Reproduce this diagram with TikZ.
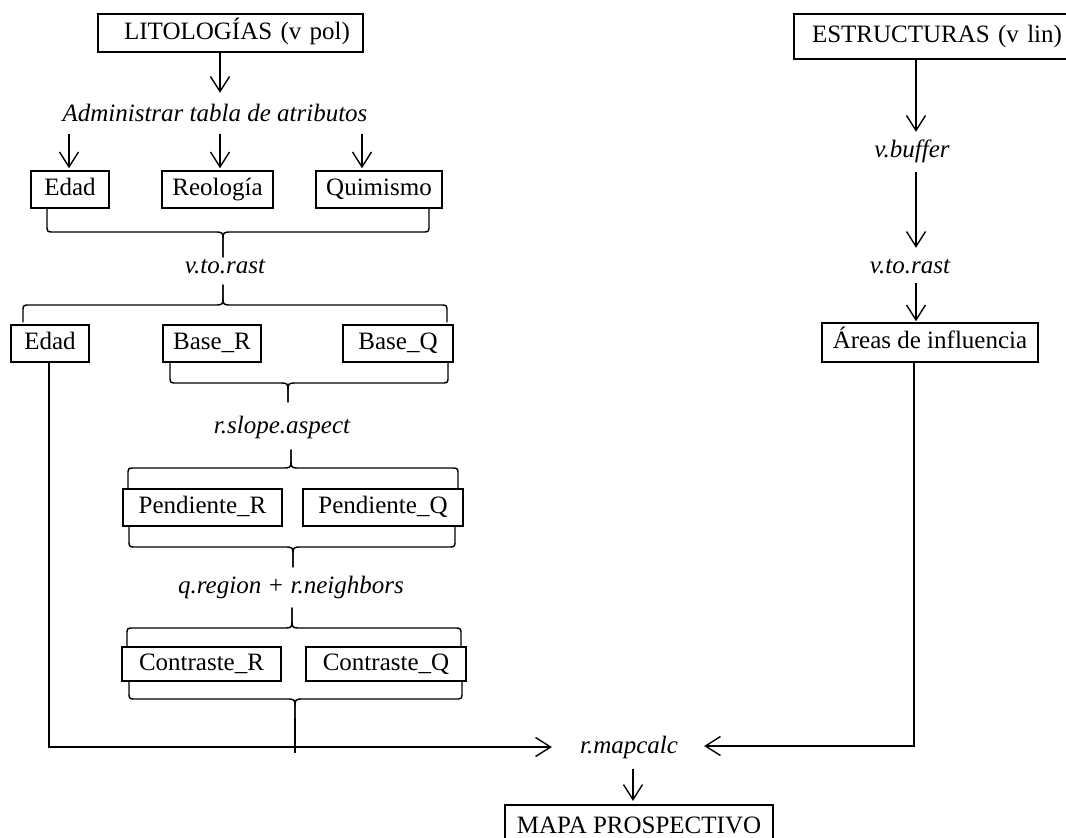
\documentclass[tikz,border=0pt]{standalone}
\usepackage{fontspec}
\setmainfont{Liberation Serif}
\usetikzlibrary{arrows.meta,calc}
\newcommand{\mybracedown}[6]{%
 \draw[brc] (#1,#3) -- (#1,#4-7) .. controls (#1,#4) .. (#1+7,#4) -- (#5-9,#4) .. controls (#5,#4) .. (#5,#4+9) -- (#5,#6);
 \draw[brc] (#2,#3) -- (#2,#4-7) .. controls (#2,#4) .. (#2-7,#4) -- (#5+9,#4) .. controls (#5,#4) .. (#5,#4+9) -- (#5,#6);}
\newcommand{\mybraceup}[6]{%
 \draw[brc] (#1,#3) -- (#1,#4+7) .. controls (#1,#4) .. (#1+7,#4) -- (#5-9,#4) .. controls (#5,#4) .. (#5,#4-9) -- (#5,#6);
 \draw[brc] (#2,#3) -- (#2,#4+7) .. controls (#2,#4) .. (#2-7,#4) -- (#5+9,#4) .. controls (#5,#4) .. (#5,#4-9) -- (#5,#6);}
\begin{document}
\begin{tikzpicture}[x=1pt,y=-1pt,
  box/.style={draw, line width=1.5pt, inner sep=0pt, font=\fontsize{25}{30}\selectfont, text height=17pt, text depth=5pt},
  lab/.style={inner sep=0pt, font=\fontsize{25}{30}\selectfont\itshape, anchor=base, text height=17pt, text depth=5pt},
  ln/.style={line width=1.4pt},
  arr/.style={ln, -{Straight Barb[length=15pt,width=19pt]}},
  brc/.style={line width=1.4pt, line join=round, line cap=round}]
\useasboundingbox (0,0) rectangle (1066,838);
\clip (0,0) rectangle (1066,838);

% boxes
\node[box, minimum width=265pt, minimum height=38pt, text width=239pt, align=right, inner xsep=13pt] (lit) at (230.5,33) {LITOLOGÍAS (v pol)};
\node[box, minimum height=45pt, text width=262pt, align=left, inner xsep=18pt] (est) at (943,36.5) {ESTRUCTURAS (v lin)};
\node[box, minimum width=78pt, minimum height=37pt] (edad1) at (70,189.5) {Edad};
\node[box, minimum width=111pt, minimum height=37pt] (reo) at (217.5,189.5) {Reología};
\node[box, minimum width=126pt, minimum height=37pt] (qui) at (379,189.5) {Quimismo};
\node[box, minimum width=78pt, minimum height=37pt] (edad2) at (50,343.5) {Edad};
\node[box, minimum width=98pt, minimum height=37pt] (baser) at (212,343.5) {Base\_R};
\node[box, minimum width=110pt, minimum height=37pt] (baseq) at (398,343.5) {Base\_Q};
\node[box, minimum width=159pt, minimum height=37pt] (pendr) at (202.5,507.5) {Pendiente\_R};
\node[box, minimum width=160pt, minimum height=37pt] (pendq) at (383,507.5) {Pendiente\_Q};
\node[box, minimum width=159pt, minimum height=34pt] (contr) at (201.5,664) {Contraste\_R};
\node[box, minimum width=160pt, minimum height=34pt] (contq) at (386,664) {Contraste\_Q};
\node[box, minimum width=216pt, minimum height=39pt] (areas) at (930,342.5) {Áreas de influencia};
\node[box, line width=2.2pt, minimum width=268pt, minimum height=45pt] (mapa) at (639,827.5) {MAPA PROSPECTIVO};

% labels
\node[lab] (adm) at (215,121) {Administrar tabla de atributos};
\node[lab] (vtr1) at (225,273) {v.to.rast};
\node[lab] (rsa) at (282,433) {r.slope.aspect};
\node[lab] (qrn) at (291,593) {q.region + r.neighbors};
\node[lab] (rmc) at (629,753) {r.mapcalc};
\node[lab] (vbuf) at (912,157) {v.buffer};
\node[lab] (vtr2) at (910,273) {v.to.rast};

% arrows left column
\draw[arr] ([xshift=-10.5pt]lit.south) -- ($(adm.north)+(5,-11)$);
\draw[arr] ($(edad1.north)+(-1,-36)$) -- ($(edad1.north)+(-1,-2)$);
\draw[arr] ($(reo.north)+(2.5,-36)$) -- ($(reo.north)+(2.5,-2)$);
\draw[arr] ($(qui.north)+(-17,-36)$) -- ($(qui.north)+(-17,-2)$);

% braces
\mybracedown{47}{429}{208}{232}{223}{257}
\mybraceup{23}{447}{322}{305}{223}{285}
\mybracedown{170}{448}{362}{383}{288}{402}
\mybraceup{128}{458}{488}{468}{291}{450}
\mybracedown{129}{455}{526}{547}{293}{567}
\mybraceup{127}{461}{647}{628}{292}{608}
\mybracedown{129}{462}{681}{699}{295}{718}

% to r.mapcalc
\coordinate (rmcl) at ($(rmc.west)+(-28,0)$);
\coordinate (rmcr) at ($(rmc.east)+(26,-1)$);
\draw[ln] (295,718) -- (295,753);
\draw[arr] ([xshift=-1pt]edad2.south) |- (rmcl);
\draw[arr] ([xshift=-16pt]areas.south) |- (rmcr);
\draw[arr] ($(rmc.south)+(4,11)$) -- ($(mapa.north)+(-6,-3)$);

% right column
\draw[arr] ([xshift=-27pt]est.south) -- ($(vbuf.north)+(4,-8)$);
\draw[arr] ($(vbuf.south)+(4,10)$) -- ($(vtr2.north)+(6,-8)$);
\draw[arr] ($(vtr2.south)+(6,5)$) -- ($(areas.north)+(-14,-1)$);
\end{tikzpicture}
\end{document}
